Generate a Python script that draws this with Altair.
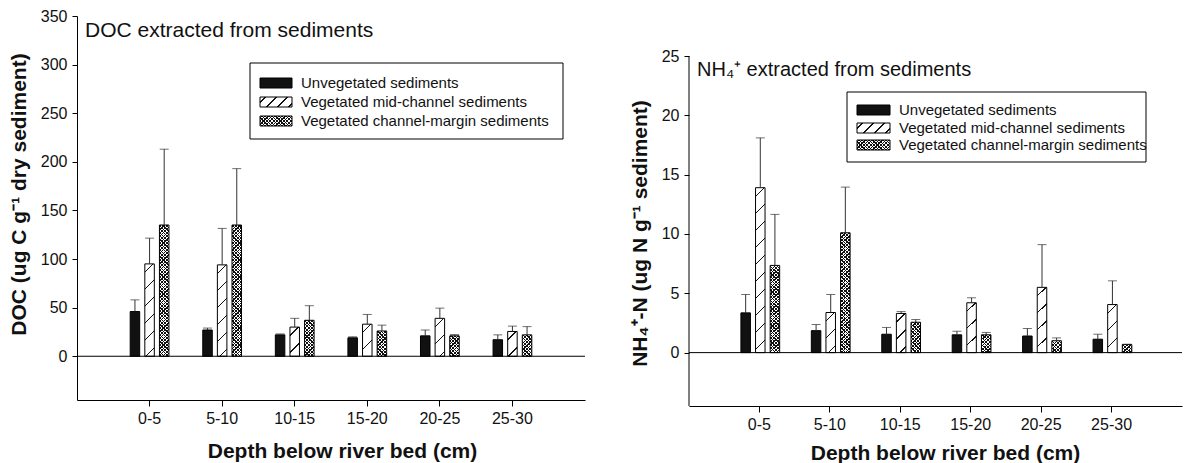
import altair as alt

# ---------------- data ----------------
depths = ["0-5", "5-10", "10-15", "15-20", "20-25", "25-30"]
series = ["Unvegetated sediments", "Vegetated mid-channel sediments",
          "Vegetated channel-margin sediments"]

doc_unveg = [46, 27, 22, 19, 21, 17]
doc_mid = [95, 94, 30, 33, 39, 25.5]
doc_margin = [135, 135, 37, 26, 21, 22]
doc_unveg_se = [12, 2, 1, 1, 6, 5]
doc_mid_se = [26.5, 37.5, 9, 10, 10.5, 5.5]
doc_margin_se = [78, 58, 15, 6, 1.3, 8.5]

nh4_unveg = [3.35, 1.85, 1.55, 1.5, 1.4, 1.13]
nh4_mid = [13.9, 3.38, 3.3, 4.2, 5.5, 4.05]
nh4_margin = [7.35, 10.1, 2.56, 1.5, 1.0, 0.68]
nh4_unveg_se = [1.55, 0.52, 0.57, 0.3, 0.63, 0.42]
nh4_mid_se = [4.2, 1.52, 0.16, 0.42, 3.6, 2.0]
nh4_margin_se = [4.3, 3.85, 0.23, 0.2, 0.24, 0.03]

doc_ticks = [0, 50, 100, 150, 200, 250, 300, 350]
nh4_ticks = [0, 5, 10, 15, 20, 25]

FONT = "Liberation Sans"
CLEAR = "rgba(0,0,0,0)"
INK = "#111111"

# ---------------- styling helpers ----------------
def stripes(w, h, period, thick, direction="/", bg="#ffffff", color=INK):
    """linear gradient that draws 45-degree hatch lines in a w x h px box"""
    L = w + h
    c = L / (w * w + h * h)
    if direction == "/":
        x1, y1, x2, y2 = 0, 0, c * w, c * h
    else:
        x1, y1, x2, y2 = 0, 1, c * w, 1 - c * h
    stops = [{"offset": 0, "color": bg}]
    s = period / 2.0
    while s - thick / 2 < L:
        a = max(0.0, (s - thick / 2) / L)
        b = min(1.0, (s + thick / 2) / L)
        stops += [{"offset": a, "color": bg}, {"offset": a, "color": color},
                  {"offset": b, "color": color}, {"offset": b, "color": bg}]
        s += period
    stops.append({"offset": 1, "color": bg})
    return {"gradient": "linear", "x1": x1, "y1": y1, "x2": x2, "y2": y2,
            "stops": stops}


PAD_IN, PAD_OUT = 0.2, 0.6
OFF_IN, OFF_OUT = 0.35, 0.66


def bar_width(plot_w):
    step = plot_w / (len(depths) - PAD_IN + 2 * PAD_OUT)
    band = step * (1 - PAD_IN)
    sub = band / (len(series) - OFF_IN + 2 * OFF_OUT)
    return sub * (1 - OFF_IN)


def fills(k, w, h):
    if k == 0:
        return INK, CLEAR
    if k == 1:
        return stripes(w, h, 17, 1.5, "/"), CLEAR
    return (stripes(w, h, 3.4, 1.2, "/"),
            stripes(w, h, 3.4, 1.2, "\\", bg=CLEAR))


def panel(means, ses, domain, ticks, plot_w, plot_h, y_title, y_title_y,
          x_title_x, x_title_pad, title, title_size, title_y, legend,
          extended_top=None):
    ppu = plot_h / (domain[1] - domain[0])
    w = bar_width(plot_w)
    rows = []
    for k, s in enumerate(series):
        for i, d in enumerate(depths):
            g1, g2 = fills(k, w, max(means[k][i] * ppu, 1))
            rows.append({"depth": d, "series": s, "mean": means[k][i],
                         "se": ses[k][i], "g1": g1, "g2": g2})
    base = alt.Chart(alt.Data(values=rows)).transform_calculate(
        upper="datum.mean + datum.se")

    x = alt.X("depth:N",
              scale=alt.Scale(domain=depths, paddingInner=PAD_IN,
                              paddingOuter=PAD_OUT),
              axis=alt.Axis(title="Depth below river bed (cm)", labelAngle=0,
                            titleX=x_title_x, titlePadding=x_title_pad,
                            tickSize=6, labelPadding=4))
    xo = alt.XOffset("series:N",
                     scale=alt.Scale(domain=series, paddingInner=OFF_IN,
                                     paddingOuter=OFF_OUT))
    y = alt.Y("mean:Q",
              scale=alt.Scale(domain=domain, nice=False, zero=False),
              axis=alt.Axis(title=y_title, values=ticks, tickSize=5,
                            labelPadding=5, titlePadding=11,
                            titleY=y_title_y,
                            domain=extended_top is None))

    bars_a = base.mark_bar(strokeWidth=0).encode(
        x=x, xOffset=xo, y=y, fill=alt.Fill("g1:N", scale=None))
    bars_b = base.mark_bar(stroke="black", strokeWidth=1).encode(
        x=x, xOffset=xo, y=y, fill=alt.Fill("g2:N", scale=None))
    err = base.mark_rule(color="#333333", strokeWidth=1).encode(
        x=x, xOffset=xo, y="mean:Q", y2="upper:Q")
    cap = base.mark_tick(color="#333333", thickness=1, size=9).encode(
        x=x, xOffset=xo, y="upper:Q")

    one = alt.Data(values=[{"k": 0}])
    zero = alt.Chart(one).mark_rule(color="black", strokeWidth=1).encode(
        y=alt.datum(0))
    ttl = alt.Chart(one).mark_text(
        text=title, align="left", baseline="middle", fontSize=title_size,
        font=FONT, color="#111").encode(x=alt.value(8), y=alt.value(title_y))

    layers = [bars_a, bars_b, err, cap, zero, ttl]
    if extended_top is not None:
        layers.append(alt.Chart(one).mark_rule(color="black").encode(
            x=alt.value(0), y=alt.datum(domain[0]), y2=alt.datum(extended_top)))

    bx1, bx2, by1, by2, rows_y, sw_x1, sw_x2, tx = legend
    layers.append(alt.Chart(one).mark_rect(
        fill="white", stroke="black", strokeWidth=1).encode(
        x=alt.value(bx1), x2=alt.value(bx2), y=alt.value(by1), y2=alt.value(by2)))
    for k, s in enumerate(series):
        sh = 10
        g1, g2 = fills(k, sw_x2 - sw_x1, sh)
        if k == 1:
            g1 = stripes(sw_x2 - sw_x1, sh, 11, 1.5, "/")
        enc = dict(x=alt.value(sw_x1), x2=alt.value(sw_x2),
                   y=alt.value(rows_y[k] - sh / 2), y2=alt.value(rows_y[k] + sh / 2))
        layers.append(alt.Chart(one).mark_rect(strokeWidth=0).encode(
            fill=alt.value(g1), **enc))
        layers.append(alt.Chart(one).mark_rect(stroke="black", strokeWidth=1).encode(
            fill=alt.value(g2), **enc))
        layers.append(alt.Chart(one).mark_text(
            text=s, align="left", baseline="middle", fontSize=15, font=FONT,
            color="#111").encode(x=alt.value(tx), y=alt.value(rows_y[k])))

    return alt.layer(*layers).properties(width=plot_w, height=plot_h)


LW, LH = 508, 384
RW, RH = 493, 390
r_ppu = 350 / 29.5
r_top = 25 + 40 / r_ppu

left = panel([doc_unveg, doc_mid, doc_margin],
             [doc_unveg_se, doc_mid_se, doc_margin_se],
             [-45, 350], doc_ticks, LW, LH,
             "DOC (ug C g\u207b\u00b9 dry sediment)", 178, 265, 14,
             "DOC extracted from sediments", 21, 15,
             (173, 486, 47, 123, [67, 86, 105], 183, 215, 224))

right = panel([nh4_unveg, nh4_mid, nh4_margin],
              [nh4_unveg_se, nh4_mid_se, nh4_margin_se],
              [-4.5, r_top], nh4_ticks, RW, RH,
              "NH\u2084\u207a-N (ug N g\u207b\u00b9 sediment)", 217, 256, 10,
              "NH\u2084\u207a extracted from sediments", 20, 54,
              (158, 457, 76, 146, [94, 112, 129], 168, 201, 210),
              extended_top=25)

chart = alt.hconcat(left, right, spacing=104, bounds="flush").properties(
    padding={"left": 0, "top": 0, "right": 0, "bottom": 0}
).configure_view(stroke=None).configure_axis(
    labelFont=FONT, titleFont=FONT, labelFontSize=16, titleFontSize=21,
    titleFontWeight="bold", labelColor="#111", titleColor="#111",
    domainColor="black", tickColor="black", grid=False,
)

chart.save("out.html", embed_options={"renderer": "svg", "actions": False})
